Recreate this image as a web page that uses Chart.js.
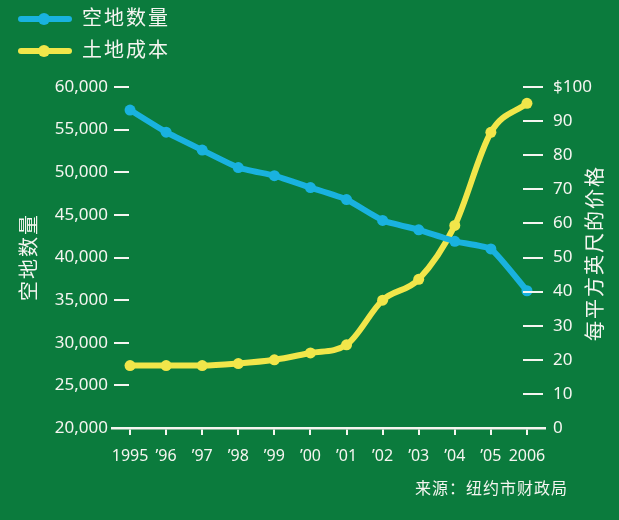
<!DOCTYPE html>
<html>
<head>
<meta charset="utf-8">
<script src="https://cdn.jsdelivr.net/npm/chart.js@4.4.0/dist/chart.umd.min.js"></script>
<style>
  html, body { margin: 0; padding: 0; background: #0b7b3d; }
  canvas { display: block; }
</style>
</head>
<body>
<canvas id="chart" width="619" height="520"></canvas>
<script>
// chart data
const years = ['1995', '\u201996', '\u201997', '\u201998', '\u201999', '\u201900', '\u201901', '\u201902', '\u201903', '\u201904', '\u201905', '2006'];
const vacantLots = [57300, 54700, 52600, 50550, 49600, 48200, 46800, 44350, 43250, 41900, 41000, 36100];
const landCost = [18.3, 18.3, 18.3, 18.9, 20.0, 22.0, 24.4, 37.5, 43.6, 59.4, 86.7, 95.2];
const lotsLabel = '空地数量';
const costLabel = '土地成本';
const rightTitle = '每平方英尺的价格';
const sourceText = '来源：纽约市财政局';

const BG = '#0b7b3d';
const BLUE = '#19b2df';
const YELLOW = '#f1e64a';
const WHITE = '#f5f5f0';
const NUM_FONT = '"Noto Sans", "Open Sans", sans-serif';
const CJK_FONT = '"Noto Sans CJK SC", sans-serif';

// background, legend, titles, inner tick marks
const decorations = {
    id: 'decorations',
    beforeDraw(chart) {
        const ctx = chart.ctx;
        ctx.save();
        ctx.fillStyle = BG;
        ctx.fillRect(0, 0, chart.width, chart.height);
        ctx.restore();
    },
    afterDraw(chart) {
        const ctx = chart.ctx;
        const area = chart.chartArea;
        ctx.save();

        // legend
        const rows = [19, 51];
        chart.data.datasets.forEach((ds, i) => {
            const y = rows[i];
            ctx.strokeStyle = ds.borderColor;
            ctx.lineWidth = 6;
            ctx.lineCap = 'round';
            ctx.beginPath();
            ctx.moveTo(21, y);
            ctx.lineTo(69, y);
            ctx.stroke();
            ctx.fillStyle = ds.borderColor;
            ctx.beginPath();
            ctx.arc(44, y, 6, 0, Math.PI * 2);
            ctx.fill();
            ctx.fillStyle = WHITE;
            ctx.font = '20px ' + CJK_FONT;
            ctx.letterSpacing = '2px';
            ctx.textAlign = 'left';
            ctx.textBaseline = 'middle';
            ctx.fillText(ds.label, 82, y - 2);
        });

        // tick marks drawn inside the plot area
        ctx.strokeStyle = WHITE;
        ctx.lineWidth = 2;
        ctx.lineCap = 'butt';
        const yL = chart.scales.y;
        yL.ticks.forEach(t => {
            const py = Math.round(yL.getPixelForValue(t.value));
            ctx.beginPath();
            ctx.moveTo(area.left + 2, py);
            ctx.lineTo(area.left + 17, py);
            ctx.stroke();
        });
        const yR = chart.scales.y1;
        yR.ticks.forEach(t => {
            if (t.value === 0) return;
            const py = Math.round(yR.getPixelForValue(t.value));
            ctx.beginPath();
            ctx.moveTo(area.right - 22, py);
            ctx.lineTo(area.right - 2, py);
            ctx.stroke();
        });

        // axis titles
        ctx.fillStyle = WHITE;
        ctx.font = '20px ' + CJK_FONT;
        ctx.letterSpacing = '2px';
        ctx.textAlign = 'center';
        ctx.textBaseline = 'middle';
        ctx.save();
        ctx.translate(28, 257);
        ctx.rotate(-Math.PI / 2);
        ctx.fillText(lotsLabel, 0, 0);
        ctx.restore();
        ctx.save();
        ctx.translate(594, 253);
        ctx.rotate(-Math.PI / 2);
        ctx.fillText(rightTitle, 0, 0);
        ctx.restore();

        // source
        ctx.font = '16px ' + CJK_FONT;
        ctx.letterSpacing = '1px';
        ctx.textAlign = 'right';
        ctx.fillText(sourceText, 568, 488);
        ctx.restore();
    }
};

document.addEventListener('DOMContentLoaded', function () {
    let ctx = document.getElementById('chart').getContext('2d');

    let chartData = {
        labels: years,
        datasets: [{
            label: lotsLabel,
            data: vacantLots,
            yAxisID: 'y',
            borderColor: BLUE,
            backgroundColor: BLUE,
            borderWidth: 6,
            pointRadius: 5.5,
            pointBorderWidth: 0,
            tension: 0.15
        }, {
            label: costLabel,
            data: landCost,
            yAxisID: 'y1',
            borderColor: YELLOW,
            backgroundColor: YELLOW,
            borderWidth: 6,
            pointRadius: 5.5,
            pointBorderWidth: 0,
            cubicInterpolationMode: 'monotone'
        }]
    };

    new Chart(ctx, {
        type: 'line',
        data: chartData,
        plugins: [decorations],
        options: {
            responsive: false,
            animation: false,
            layout: { padding: { top: 87, left: 0, right: 0, bottom: 0 } },
            plugins: {
                legend: { display: false },
                tooltip: { enabled: false }
            },
            scales: {
                x: {
                    type: 'category',
                    offset: true,
                    grid: {
                        display: true,
                        drawOnChartArea: false,
                        offset: false,
                        tickLength: 7,
                        color: WHITE,
                        lineWidth: 2
                    },
                    border: { display: true, color: WHITE, width: 2.5 },
                    ticks: {
                        color: WHITE,
                        font: { family: NUM_FONT, size: 16 },
                        padding: 12,
                        maxRotation: 0,
                        autoSkip: false
                    },
                    afterFit: s => { s.height = 92; }
                },
                y: {
                    position: 'left',
                    min: 20000,
                    max: 60000,
                    grid: { display: false, drawTicks: false },
                    border: { display: false },
                    ticks: {
                        stepSize: 5000,
                        color: WHITE,
                        padding: 4,
                        font: { family: NUM_FONT, size: 17 },
                        callback: v => v.toLocaleString('en-US')
                    },
                    afterFit: s => { s.width = 112; }
                },
                y1: {
                    position: 'right',
                    min: 0,
                    max: 100,
                    grid: { display: false, drawTicks: false },
                    border: { display: false },
                    ticks: {
                        stepSize: 10,
                        color: WHITE,
                        padding: 8,
                        font: { family: NUM_FONT, size: 17 },
                        callback: v => v === 100 ? '$100' : v
                    },
                    afterFit: s => { s.width = 74; }
                }
            }
        }
    });
});
</script>
</body>
</html>
